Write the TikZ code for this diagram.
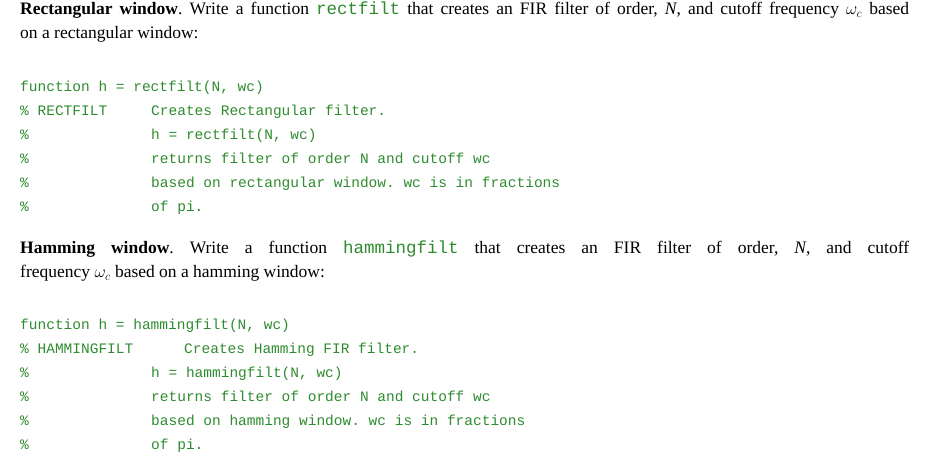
\documentclass[tikz,border=0pt]{standalone}
\usepackage{fontspec}
\setmainfont{Liberation Serif}
\setmonofont{Liberation Mono}
\definecolor{codegreen}{HTML}{2E8B2E}
\begin{document}
\frenchspacing
\begin{tikzpicture}[x=1pt,y=-1pt,
  para/.style={anchor=north west,inner sep=0pt,text width=889pt,align=justify,font=\fontsize{17.5}{24}\selectfont\frenchspacing},
  code/.style={anchor=base west,inner sep=0pt,text=codegreen,font=\fontsize{14.5}{24}\ttfamily}]
\useasboundingbox (0,0) rectangle (942,471);
\newcommand{\cd}[1]{{\color{codegreen}\fontsize{17.5}{24}\ttfamily #1}}
\node[para] (p1) at (20,2) {\textbf{Rectangular window}. Write a function \cd{rectfilt} that creates an FIR filter of order, \textit{N}, and cutoff frequency $\omega_c$ based\linebreak on a rectangular window:};
\node[code] (a1) at (20,91) {function h = rectfilt(N, wc)};
\node[code] (a2) at (20,115) {\% RECTFILT};
\node[code] (a2b) at (151,115) {Creates Rectangular filter.};
\node[code] (a3) at (20,139) {\%};
\node[code] (a3b) at (151,139) {h = rectfilt(N, wc)};
\node[code] (a4) at (20,163) {\%};
\node[code] (a4b) at (151,163) {returns filter of order N and cutoff wc};
\node[code] (a5) at (20,187) {\%};
\node[code] (a5b) at (151,187) {based on rectangular window. wc is in fractions};
\node[code] (a6) at (20,211) {\%};
\node[code] (a6b) at (151,211) {of pi.};
\node[para] (p2) at (20,241) {\textbf{Hamming window}. Write a function \cd{hammingfilt} that creates an FIR filter of order, \textit{N}, and cutoff\linebreak frequency $\omega_c$ based on a hamming window:};
\node[code] (b1) at (20,329) {function h = hammingfilt(N, wc)};
\node[code] (b2) at (20,353) {\% HAMMINGFILT};
\node[code] (b2b) at (184,353) {Creates Hamming FIR filter.};
\node[code] (b3) at (20,377) {\%};
\node[code] (b3b) at (151,377) {h = hammingfilt(N, wc)};
\node[code] (b4) at (20,401) {\%};
\node[code] (b4b) at (151,401) {returns filter of order N and cutoff wc};
\node[code] (b5) at (20,425) {\%};
\node[code] (b5b) at (151,425) {based on hamming window. wc is in fractions};
\node[code] (b6) at (20,449) {\%};
\node[code] (b6b) at (151,449) {of pi.};
\end{tikzpicture}
\end{document}
